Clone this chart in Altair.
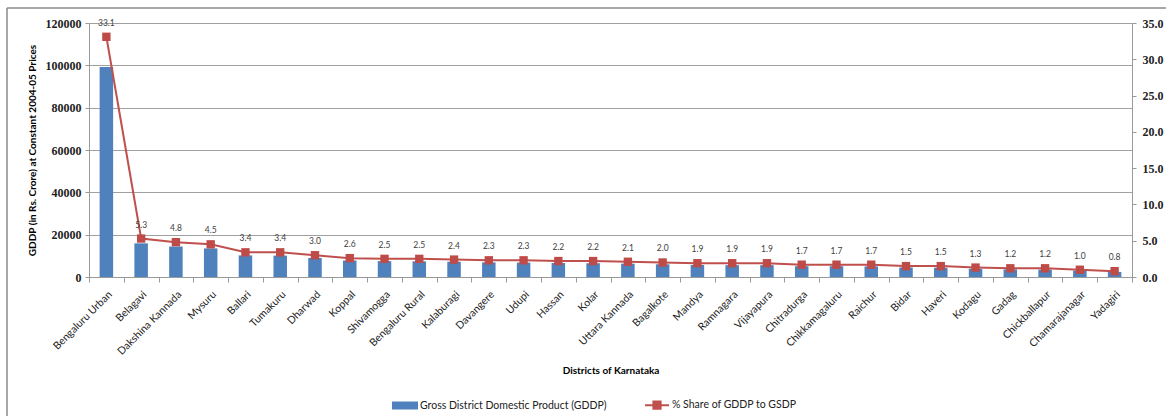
import altair as alt
import pandas as pd

districts = [
    "Bengaluru Urban", "Belagavi", "Dakshina Kannada", "Mysuru", "Ballari",
    "Tumakuru", "Dharwad", "Koppal", "Shivamogga", "Bengaluru Rural",
    "Kalaburagi", "Davangere", "Udupi", "Hassan", "Kolar",
    "Uttara Kannada", "Bagalkote", "Mandya", "Ramnagara", "Vijayapura",
    "Chitradurga", "Chikkamagaluru", "Raichur", "Bidar", "Haveri",
    "Kodagu", "Gadag", "Chickballapur", "Chamarajanagar", "Yadagiri",
]
gddp = [
    99200, 15900, 14400, 13500, 10200,
    10100, 9000, 7800, 7500, 7400,
    7200, 6900, 6800, 6600, 6500,
    6300, 6000, 5700, 5600, 5600,
    5100, 5100, 5000, 4500, 4400,
    3900, 3600, 3500, 3000, 2400,
]
share = [
    33.1, 5.3, 4.8, 4.5, 3.4,
    3.4, 3.0, 2.6, 2.5, 2.5,
    2.4, 2.3, 2.3, 2.2, 2.2,
    2.1, 2.0, 1.9, 1.9, 1.9,
    1.7, 1.7, 1.7, 1.5, 1.5,
    1.3, 1.2, 1.2, 1.0, 0.8,
]
series_names = ["Gross District Domestic Product (GDDP)", "% Share of GDDP to GSDP"]
series_colors = ["#4F81BD", "#C0504D"]
left_ticks = [0, 20000, 40000, 60000, 80000, 100000, 120000]
right_ticks = [0, 5, 10, 15, 20, 25, 30, 35]

df = pd.DataFrame({"district": districts, "gddp": gddp, "share": share})
legend_df = pd.DataFrame({"series": series_names})

W, H = 1043, 254
SANS = "Lato"
SERIF = "Liberation Serif"

x_enc = alt.X(
    "district:N",
    sort=districts,
    scale=alt.Scale(paddingInner=0, paddingOuter=0),
    axis=alt.Axis(
        title="Districts of Karnataka",
        titleFont=SANS, titleFontSize=10, titleFontWeight="bold", titleColor="#000",
        titleY=93, titleBaseline="middle",
        labelAngle=-45, labelFont=SANS, labelFontSize=10.5, labelColor="#222",
        labelPadding=7,
        tickBand="extent", tickSize=5, tickColor="#999", domainColor="#999",
    ),
)

bars = alt.Chart(df).mark_bar(color=series_colors[0], size=13.5).encode(
    x=x_enc,
    y=alt.Y(
        "gddp:Q",
        scale=alt.Scale(domain=[0, 120000], nice=False),
        axis=alt.Axis(
            title="GDDP (in Rs. Crore) at Constant 2004-05 Prices",
            titleFont=SANS, titleFontSize=10, titleFontWeight="bold", titleColor="#000",
            titleX=-57, titleY=H / 2, titleBaseline="middle",
            values=left_ticks, format="d",
            labelFont=SERIF, labelFontSize=12, labelFontWeight="bold", labelColor="#222",
            labelPadding=4, tickSize=4, tickColor="#999", domainColor="#999",
            grid=True, gridColor="#a0a0a0", gridWidth=1,
        ),
    ),
)

y_right = alt.Y(
    "share:Q",
    scale=alt.Scale(domain=[0, 35], nice=False),
    axis=alt.Axis(
        title=None, orient="right", values=right_ticks, format=".1f",
        labelFont=SERIF, labelFontSize=12, labelFontWeight="bold", labelColor="#222",
        labelPadding=6, tickSize=4, tickColor="#999", domainColor="#999", grid=False,
    ),
)

line = alt.Chart(df).mark_line(
    color=series_colors[1], strokeWidth=2,
    point=alt.OverlayMarkDef(shape="square", size=70, filled=True, color="#BE4B48"),
).encode(x=alt.X("district:N", sort=districts), y=y_right)

labels = alt.Chart(df).mark_text(
    dy=-14, font=SANS, fontSize=8.5, color="#404040", baseline="middle"
).encode(
    x=alt.X("district:N", sort=districts),
    y=y_right,
    text=alt.Text("share:Q", format=".1f"),
)

# legend-only layer: entries come from the explicit scale domains
bar_swatch = "M-1,-0.25H1V0.25H-1Z"
line_swatch = "M-1,0H1M-0.3,-0.3H0.3V0.3H-0.3Z"
legend_layer = alt.Chart(legend_df).transform_filter("datum.series == 'none'").mark_point(
    filled=True, strokeWidth=2, opacity=1
).encode(
    fill=alt.Fill("series:N", scale=alt.Scale(domain=series_names, range=series_colors),
                  legend=alt.Legend(title=None)),
    stroke=alt.Stroke("series:N", scale=alt.Scale(domain=series_names, range=series_colors),
                      legend=alt.Legend(title=None)),
    shape=alt.Shape("series:N", scale=alt.Scale(domain=series_names, range=[bar_swatch, line_swatch]),
                    legend=alt.Legend(title=None)),
)

# outer frame along the top and left edges
frame = alt.Data(values=[{}])
top_edge = alt.Chart(frame).mark_rule(color="#8a8a8a", strokeWidth=1.5).encode(
    x=alt.value(-82), x2=alt.value(1166 - 89), y=alt.value(-15)
)
left_edge = alt.Chart(frame).mark_rule(color="#8a8a8a", strokeWidth=1.5).encode(
    x=alt.value(-82), y=alt.value(-15), y2=alt.value(416 - 23)
)

right_group = alt.layer(line, labels, legend_layer)

chart = (
    alt.layer(bars, right_group, top_edge, left_edge)
    .resolve_scale(y="independent")
    .properties(
        width=W, height=H,
        autosize=alt.AutoSizeParams(type="none"),
        padding={"left": 89, "top": 23, "right": 34, "bottom": 139},
    )
    .configure_view(stroke=None)
    .configure_legend(
        orient="none", legendX=303, legendY=369, direction="horizontal",
        symbolSize=576, symbolOpacity=1, labelLimit=0,
        labelFont=SANS, labelFontSize=10.5, labelColor="#222",
        labelOffset=2, columnPadding=34, symbolStrokeWidth=2,
    )
)

chart.save("out.html", embed_options={"renderer": "svg", "actions": False})
